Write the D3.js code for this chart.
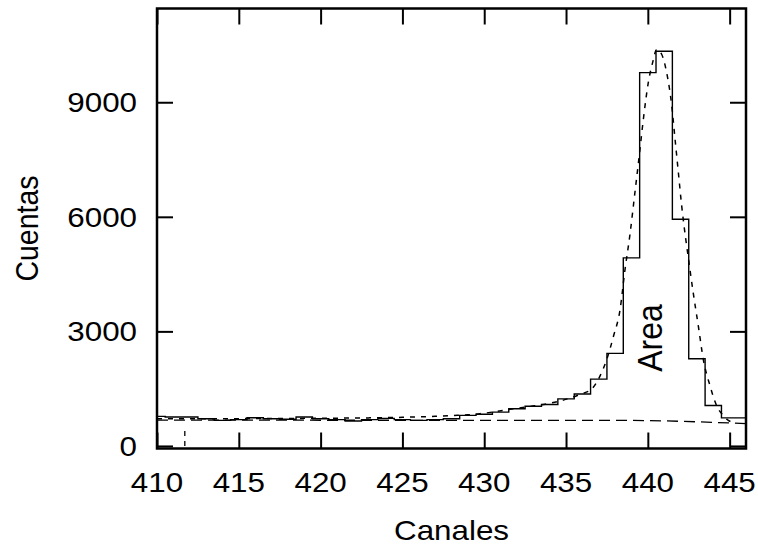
<!DOCTYPE html>
<html>
<head>
<meta charset="utf-8">
<script src="https://d3js.org/d3.v7.min.js"></script>
<style>
  body { margin: 0; background: #fff; }
  text { font-family: "Liberation Sans", Arial, Helvetica, sans-serif; fill: #000; }
</style>
</head>
<body>
<div id="chart"></div>
<script>
// canales del histograma y sus cuentas
const channels = [410, 411, 412, 413, 414, 415, 416, 417, 418, 419,
                  420, 421, 422, 423, 424, 425, 426, 427, 428, 429,
                  430, 431, 432, 433, 434, 435, 436, 437, 438, 439,
                  440, 441, 442, 443, 444, 445, 446];
const counts = [774, 756, 756, 714, 670, 690, 740, 714, 700, 756,
                714, 689, 653, 689, 722, 689, 670, 689, 714, 800,
                830, 886, 973, 1041, 1085, 1232, 1362, 1750, 2423, 4925,
                9777, 10337, 5935, 2284, 1060, 735, 735];

// curva de ajuste
const fitX = [410, 415, 420, 423, 425, 427, 428, 429, 429.74, 430.8, 431.78, 432.8, 433.82,
              434.84, 435.86, 436.57, 437.08, 437.49, 437.9, 438.3, 438.6, 438.91, 439.22,
              439.48, 439.73, 440.03, 440.3, 440.54, 440.85, 441.15, 441.46, 441.66, 441.86,
              442.06, 442.33, 442.47, 442.78, 443.09, 443.39, 443.8, 444.2, 444.6, 444.92, 445.3];
const fitY = [710, 715, 725, 735, 750, 775, 795, 815, 844, 905, 973, 1035, 1103,
              1200, 1350, 1491, 1836, 2268, 2872, 3563, 4600, 5546, 6670,
              7618, 8568, 9518, 10050, 10380, 10250, 9777, 8913, 8050, 7188,
              6323, 5375, 4943, 3993, 3130, 2268, 1577, 1059, 800, 670, 610];

// fondo
const bgX = [410, 425, 438.6, 446];
const bgY = [676, 672, 668, 585];

// marca vertical
const markX = 411.7;
const markTop = 515;

const xTicks = [410, 415, 420, 425, 430, 435, 440, 445];
const yTicks = [0, 3000, 6000, 9000];

const W = 758, H = 546;
const margin = {top: 8.5, right: 12, bottom: 97.5, left: 157};
const stretch = 1.1;

const svg = d3.select("#chart").append("svg")
    .attr("width", W)
    .attr("height", H);

const x = d3.scaleLinear().domain([410, 446]).range([margin.left, W - margin.right]);
const y = d3.scaleLinear().domain([-67, 11455]).range([H - margin.bottom, margin.top]);

svg.append("defs").append("clipPath").attr("id", "clip")
  .append("rect")
    .attr("x", margin.left).attr("y", margin.top)
    .attr("width", W - margin.left - margin.right)
    .attr("height", H - margin.top - margin.bottom);

const plot = svg.append("g").attr("clip-path", "url(#clip)");

// fondo (rayas largas)
plot.append("path")
    .datum(bgX.map((d, i) => [d, bgY[i]]))
    .attr("fill", "none")
    .attr("stroke", "#000")
    .attr("stroke-width", 1.3)
    .attr("stroke-dasharray", "11,6")
    .attr("d", d3.line().x(d => x(d[0])).y(d => y(d[1])).curve(d3.curveMonotoneX));

// ajuste (rayas cortas)
plot.append("path")
    .datum(fitX.map((d, i) => [d, fitY[i]]))
    .attr("fill", "none")
    .attr("stroke", "#000")
    .attr("stroke-width", 1.5)
    .attr("stroke-dasharray", "5,6")
    .attr("d", d3.line().x(d => x(d[0])).y(d => y(d[1])).curve(d3.curveMonotoneX));

// histograma
plot.append("path")
    .datum(channels.map((d, i) => [d, counts[i]]))
    .attr("fill", "none")
    .attr("stroke", "#000")
    .attr("stroke-width", 1.4)
    .attr("d", d3.line().x(d => x(d[0])).y(d => y(d[1])).curve(d3.curveStep));

// marca vertical
plot.append("line")
    .attr("x1", x(markX)).attr("x2", x(markX))
    .attr("y1", y(0)).attr("y2", y(markTop))
    .attr("stroke", "#000")
    .attr("stroke-width", 1.3)
    .attr("stroke-dasharray", "5,5");

// ejes con marcas hacia dentro, espejadas
const tick = 16;
const axisStyle = g => {
  g.select(".domain").remove();
  g.selectAll(".tick line").attr("stroke", "#000").attr("stroke-width", 2);
};
svg.append("g")
    .attr("transform", `translate(0,${H - margin.bottom})`)
    .call(d3.axisTop(x).tickValues(xTicks).tickSize(tick).tickFormat(""))
    .call(axisStyle);
svg.append("g")
    .attr("transform", `translate(0,${margin.top})`)
    .call(d3.axisBottom(x).tickValues(xTicks).tickSize(tick).tickFormat(""))
    .call(axisStyle);
svg.append("g")
    .attr("transform", `translate(${margin.left},0)`)
    .call(d3.axisRight(y).tickValues(yTicks).tickSize(tick).tickFormat(""))
    .call(axisStyle);
svg.append("g")
    .attr("transform", `translate(${W - margin.right},0)`)
    .call(d3.axisLeft(y).tickValues(yTicks).tickSize(tick).tickFormat(""))
    .call(axisStyle);

// marco
svg.append("rect")
    .attr("x", margin.left).attr("y", margin.top)
    .attr("width", W - margin.left - margin.right)
    .attr("height", H - margin.top - margin.bottom)
    .attr("fill", "none")
    .attr("stroke", "#000")
    .attr("stroke-width", 2.5);

// etiquetas de marcas
const fs = 28.5;
svg.append("g").selectAll("text")
  .data(xTicks).join("text")
    .attr("transform", d => `translate(${x(d)},491.5) scale(${stretch},1)`)
    .attr("text-anchor", "middle")
    .attr("font-size", fs)
    .text(d => d);

svg.append("g").selectAll("text")
  .data(yTicks).join("text")
    .attr("transform", d => `translate(137,${y(d)}) scale(${stretch},1)`)
    .attr("text-anchor", "end")
    .attr("dy", "0.35em")
    .attr("font-size", fs)
    .text(d => d);

// titulos de ejes
svg.append("text")
    .attr("transform", `translate(${(margin.left + W - margin.right) / 2},540) scale(${stretch},1)`)
    .attr("text-anchor", "middle")
    .attr("font-size", fs)
    .text("Canales");

svg.append("text")
    .attr("transform", `translate(38,${(margin.top + H - margin.bottom) / 2}) scale(${stretch},1) rotate(-90)`)
    .attr("text-anchor", "middle")
    .attr("font-size", fs)
    .text("Cuentas");

svg.append("text")
    .attr("transform", `translate(662,338) scale(${stretch},1) rotate(-90)`)
    .attr("text-anchor", "middle")
    .attr("font-size", 32)
    .text("Area");
</script>
</body>
</html>
